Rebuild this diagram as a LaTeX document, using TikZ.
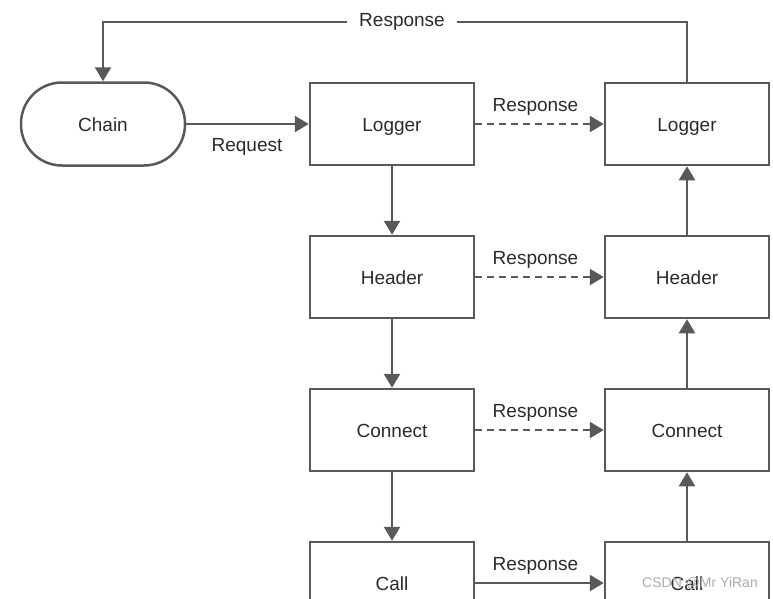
\documentclass[tikz,border=0pt]{standalone}
\usepackage{fontspec}
\setmainfont{Liberation Sans}
\usetikzlibrary{arrows.meta}
\definecolor{ln}{HTML}{595959}
\definecolor{tx}{HTML}{2B2B2B}
\begin{document}
\begin{tikzpicture}[x=1pt,y=-1pt,
  box/.style={draw=ln,line width=2.5pt,minimum width=164pt,minimum height=82pt,inner sep=0pt,text=tx,text height=18pt,text depth=4pt,font=\fontsize{19}{22}\selectfont},
  stad/.style={draw=ln,line width=2.5pt,minimum width=164pt,minimum height=83pt,rounded corners=41pt,inner sep=0pt,text=tx,text height=18pt,text depth=4pt,font=\fontsize{19}{22}\selectfont},
  conn/.style={draw=ln,line width=2.5pt,-{Triangle[length=14pt,width=16pt]}},
  dconn/.style={conn,dash pattern=on 7pt off 5pt},
  lab/.style={text=tx,font=\fontsize{19}{22}\selectfont,inner sep=0pt},
  rlab/.style={lab,above=7pt,xshift=-4pt}]
\useasboundingbox (0,0) rectangle (773,598);
\clip (0,0) rectangle (773,598);
\fill[white] (0,0) rectangle (773,598);
\node[stad] (chain) at (103,124) {Chain};
\node[box] (l1) at (392,124) {Logger};
\node[box] (r1) at (687,124) {Logger};
\node[box] (l2) at (392,277) {Header};
\node[box] (r2) at (687,277) {Header};
\node[box] (l3) at (392,430) {Connect};
\node[box] (r3) at (687,430) {Connect};
\node[box] (l4) at (392,583) {Call};
\node[box] (r4) at (687,583) {Call};
% request
\draw[conn] (chain.east) -- (l1.west);
\node[lab] (req) at (247,147) {Request};
% top response
\node[lab] (topr) at (402,22) {Response};
\coordinate (tl) at (103,22);
\coordinate (tr) at (687,22);
\draw[draw=ln,line width=2.5pt] (topr.east) ++(12,0) -- (tr) -- (r1.north);
\draw[conn] (topr.west) ++(-12,0) -- (tl) -- (chain.north);
% down arrows
\draw[conn] (l1.south) -- (l2.north);
\draw[conn] (l2.south) -- (l3.north);
\draw[conn] (l3.south) -- (l4.north);
% up arrows
\draw[conn] (r2.north) -- (r1.south);
\draw[conn] (r3.north) -- (r2.south);
\draw[conn] (r4.north) -- (r3.south);
% horizontal
\draw[dconn] (l1.east) -- node[rlab] (a1) {Response} (r1.west);
\draw[dconn] (l2.east) -- node[rlab] (a2) {Response} (r2.west);
\draw[dconn] (l3.east) -- node[rlab] (a3) {Response} (r3.west);
\draw[conn] (l4.east) -- node[rlab] (a4) {Response} (r4.west);
\node[text=gray!65,font=\fontsize{14}{16}\selectfont,inner sep=0pt] (wm) at (700,583) {CSDN @Mr YiRan};
\end{tikzpicture}
\end{document}
